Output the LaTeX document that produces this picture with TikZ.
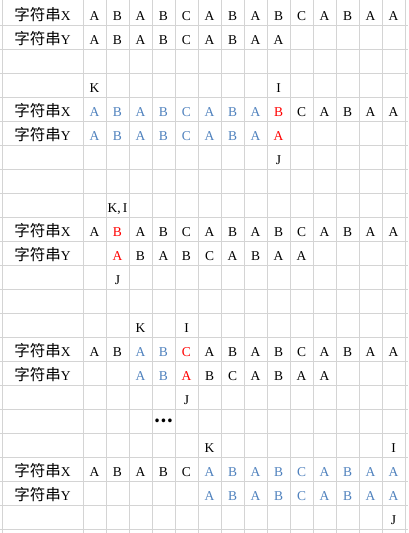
\documentclass[tikz,border=0pt]{standalone}
\usepackage{fontspec}
\setmainfont{Liberation Serif}
\newfontfamily\cjk{Noto Sans CJK SC}
\definecolor{gridc}{HTML}{D4D4D4}
\definecolor{txtblue}{HTML}{4F81BD}
\newcommand\colx[1]{71.5+23*#1}
\newcommand\rowy[1]{24*#1-3.5}
\newcommand\strlab[2]{\node[lab] (lab#1) at (42.5,{\rowy{#1}}) {{\cjk\fontsize{15.5}{16}\selectfont 字符串}#2};}
\newcommand\putrow[3]{\foreach \ch/\st [count=\i from #2] in {#3} {\node[cell,\st] (r#1c\i) at ({\colx{\i}},{\rowy{#1}}) {\ch};}}
\begin{document}
\begin{tikzpicture}[x=1pt,y=-1pt,
  cell/.style={anchor=base,inner sep=0pt,font=\fontsize{13.5}{14}\selectfont},
  tk/.style={text=black}, tb/.style={text=txtblue}, tr/.style={text=red},
  lab/.style={anchor=base,inner sep=0pt,font=\fontsize{13.5}{14}\selectfont},
  gridline/.style={draw=gridc,line width=0.9pt}]
\useasboundingbox (0,0) rectangle (408,533);
\foreach \k in {0,...,21} \draw[gridline] (0,{25+24*\k}) -- (408,{25+24*\k});
\draw[gridline] (2,0) -- (2,533);
\foreach \c in {0,...,14} \draw[gridline] ({83+23*\c},0) -- ({83+23*\c},533);
% block 1
\strlab{1}{X}
\putrow{1}{1}{A/tk,B/tk,A/tk,B/tk,C/tk,A/tk,B/tk,A/tk,B/tk,C/tk,A/tk,B/tk,A/tk,A/tk}
\strlab{2}{Y}
\putrow{2}{1}{A/tk,B/tk,A/tk,B/tk,C/tk,A/tk,B/tk,A/tk,A/tk}
% block 2
\node[cell,tk] (k4) at ({\colx{1}},{\rowy{4}}) {K};
\node[cell,tk] (i4) at ({\colx{9}},{\rowy{4}}) {I};
\strlab{5}{X}
\putrow{5}{1}{A/tb,B/tb,A/tb,B/tb,C/tb,A/tb,B/tb,A/tb,B/tr,C/tk,A/tk,B/tk,A/tk,A/tk}
\strlab{6}{Y}
\putrow{6}{1}{A/tb,B/tb,A/tb,B/tb,C/tb,A/tb,B/tb,A/tb,A/tr}
\node[cell,tk] (j7) at ({\colx{9}},{\rowy{7}}) {J};
% block 3
\node[cell,tk] (ki9) at ({\colx{2}},{\rowy{9}}) {K,\kern2pt I};
\strlab{10}{X}
\putrow{10}{1}{A/tk,B/tr,A/tk,B/tk,C/tk,A/tk,B/tk,A/tk,B/tk,C/tk,A/tk,B/tk,A/tk,A/tk}
\strlab{11}{Y}
\putrow{11}{2}{A/tr,B/tk,A/tk,B/tk,C/tk,A/tk,B/tk,A/tk,A/tk}
\node[cell,tk] (j12) at ({\colx{2}},{\rowy{12}}) {J};
% block 4
\node[cell,tk] (k14) at ({\colx{3}},{\rowy{14}}) {K};
\node[cell,tk] (i14) at ({\colx{5}},{\rowy{14}}) {I};
\strlab{15}{X}
\putrow{15}{1}{A/tk,B/tk,A/tb,B/tb,C/tr,A/tk,B/tk,A/tk,B/tk,C/tk,A/tk,B/tk,A/tk,A/tk}
\strlab{16}{Y}
\putrow{16}{3}{A/tb,B/tb,A/tr,B/tk,C/tk,A/tk,B/tk,A/tk,A/tk}
\node[cell,tk] (j17) at ({\colx{5}},{\rowy{17}}) {J};
\node[inner sep=0pt,anchor=center,font=\cjk\fontsize{17}{17}\selectfont\bfseries] (dots) at ({\colx{4}},421) {…};
% block 5
\node[cell,tk] (k19) at ({\colx{6}},{\rowy{19}}) {K};
\node[cell,tk] (i19) at ({\colx{14}},{\rowy{19}}) {I};
\strlab{20}{X}
\putrow{20}{1}{A/tk,B/tk,A/tk,B/tk,C/tk,A/tb,B/tb,A/tb,B/tb,C/tb,A/tb,B/tb,A/tb,A/tb}
\strlab{21}{Y}
\putrow{21}{6}{A/tb,B/tb,A/tb,B/tb,C/tb,A/tb,B/tb,A/tb,A/tb}
\node[cell,tk] (j22) at ({\colx{14}},{\rowy{22}}) {J};
\end{tikzpicture}
\end{document}
